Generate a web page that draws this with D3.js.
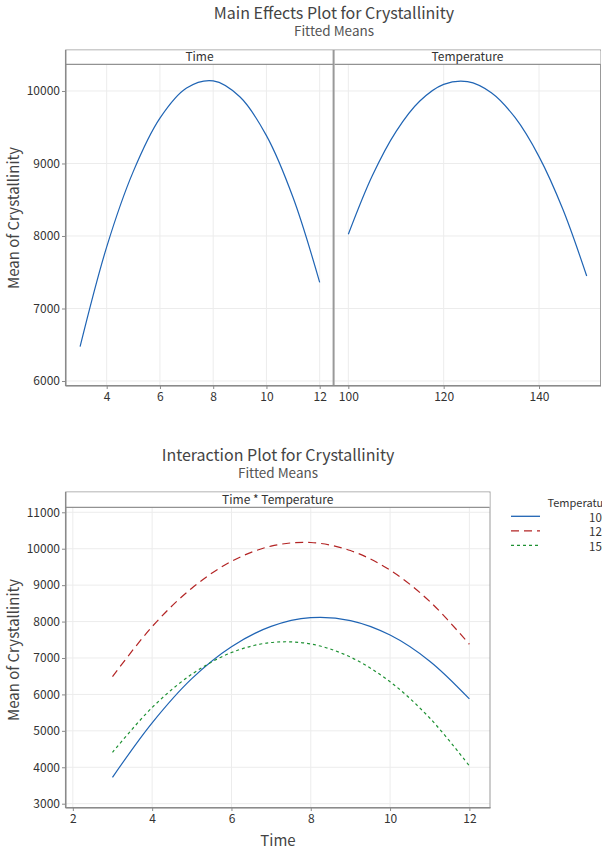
<!DOCTYPE html>
<html>
<head>
<meta charset="utf-8">
<script src="https://cdn.jsdelivr.net/npm/d3@7"></script>
<style>
  html, body { margin: 0; padding: 0; background: #fff; overflow: hidden; }
  svg { display: block; }
  text { font-family: "Noto Sans CJK KR", "Open Sans", sans-serif; }
</style>
</head>
<body>
<script>
// Fitted means: main effects
const timeLevels = [3, 4, 5, 6, 7, 8, 9, 10, 11, 12];
const timeMain   = [6473, 7850, 8891, 9625, 10041, 10139, 9920, 9384, 8530, 7361];
const tempLevels = [100, 105, 110, 115, 120, 125, 130, 135, 140, 145, 150];
const tempMain   = [8023, 8827, 9440, 9861, 10091, 10129, 9976, 9631, 9095, 8368, 7448];

// Fitted means: Time * Temperature interaction
const temp100 = [3725, 5220, 6434, 7310, 7868, 8107, 8027, 7629, 6912, 5876];
const temp125 = [6487, 7862, 8917, 9654, 10071, 10170, 9950, 9412, 8554, 7377];
const temp150 = [4410, 5641, 6554, 7149, 7425, 7384, 7025, 6347, 5352, 4038];
const legendLabels = ["100", "125", "150"];

// Tick labels
const mainYTicks  = [6000, 7000, 8000, 9000, 10000];
const mainTimeTicks = [4, 6, 8, 10, 12];
const mainTempTicks = [100, 120, 140];
const interYTicks = [3000, 4000, 5000, 6000, 7000, 8000, 9000, 10000, 11000];
const interXTicks = [2, 4, 6, 8, 10, 12];

const W = 602, H = 852;
const svg = d3.select("body").append("svg").attr("width", W).attr("height", H);

const gridColor = "#ececec";
const axisColor = "#8a8a8a";
const textColor = "#333";

function grid(g, x, y, xt, yt) {
  const [x0, x1] = x.range(), [y0, y1] = y.range();
  g.selectAll(null).data(yt).join("line")
    .attr("x1", x0).attr("x2", x1)
    .attr("y1", d => y(d)).attr("y2", d => y(d))
    .attr("stroke", gridColor).attr("stroke-width", 1);
  g.selectAll(null).data(xt).join("line")
    .attr("x1", d => x(d)).attr("x2", d => x(d))
    .attr("y1", y0).attr("y2", y1)
    .attr("stroke", gridColor).attr("stroke-width", 1);
}

function styleAxis(g) {
  g.select(".domain").remove();
  g.selectAll(".tick line").attr("stroke", axisColor);
  g.selectAll(".tick text").attr("fill", textColor).style("font-size", "12px");
}

function strip(g, x0, x1, top, bottom, label) {
  g.append("rect").attr("x", x0).attr("y", top).attr("width", x1 - x0).attr("height", bottom - top)
    .attr("fill", "#fff");
  g.append("line").attr("x1", x0).attr("x2", x1).attr("y1", bottom).attr("y2", bottom)
    .attr("stroke", "#777").attr("stroke-width", 1);
  g.append("text").attr("x", (x0 + x1) / 2).attr("y", bottom - 3.5).attr("text-anchor", "middle")
    .attr("fill", textColor).style("font-size", "12px").text(label);
}

function titles(cx, y, main, sub) {
  svg.append("text").attr("x", cx).attr("y", y).attr("text-anchor", "middle")
    .attr("fill", "#444").style("font-size", "16px").text(main);
  svg.append("text").attr("x", cx).attr("y", y + 17).attr("text-anchor", "middle")
    .attr("fill", "#555").style("font-size", "13.5px").text(sub);
}

function yTitle(cy) {
  svg.append("text").attr("transform", `translate(19,${cy}) rotate(-90)`)
    .attr("text-anchor", "middle").attr("fill", "#444").style("font-size", "15px")
    .text("Mean of Crystallinity");
}

// ---------------- Main effects plot ----------------
const topY = d3.scaleLinear().domain([5935, 10368]).range([385.7, 64.3]);
const xTime = d3.scaleLinear().domain([2.46, 12.5]).range([65.7, 333]);
const xTemp = d3.scaleLinear().domain([97.1, 153]).range([334.5, 601]);

titles(334, 19, "Main Effects Plot for Crystallinity", "Fitted Means");
yTitle(218);

const gTop = svg.append("g");
grid(gTop.append("g"), xTime, topY, mainTimeTicks, mainYTicks);
grid(gTop.append("g"), xTemp, topY, mainTempTicks, mainYTicks);

const line = (xs, ys, xScale, yScale) =>
  d3.line().x(d => xScale(d[0])).y(d => yScale(d[1])).curve(d3.curveCatmullRom)(d3.zip(xs, ys));

gTop.append("path").attr("d", line(timeLevels, timeMain, xTime, topY))
  .attr("fill", "none").attr("stroke", "#1f64b4").attr("stroke-width", 1.2);
gTop.append("path").attr("d", line(tempLevels, tempMain, xTemp, topY))
  .attr("fill", "none").attr("stroke", "#1f64b4").attr("stroke-width", 1.2);

// panel frame
gTop.append("rect").attr("x", 65.7).attr("y", 50).attr("width", 601 - 65.7 - 0.5).attr("height", 385.7 - 50)
  .attr("fill", "none").attr("stroke", "#999").attr("stroke-width", 1);
strip(gTop, 66, 333, 50.5, 64.3, "Time");
strip(gTop, 334.5, 600.5, 50.5, 64.3, "Temperature");
gTop.append("line").attr("x1", 333.6).attr("x2", 333.6).attr("y1", 50).attr("y2", 385.7)
  .attr("stroke", "#999").attr("stroke-width", 2);
gTop.append("line").attr("x1", 65.7).attr("x2", 65.7).attr("y1", 50).attr("y2", 386)
  .attr("stroke", axisColor).attr("stroke-width", 1.5);
gTop.append("line").attr("x1", 65.7).attr("x2", 601).attr("y1", 385.7).attr("y2", 385.7)
  .attr("stroke", axisColor).attr("stroke-width", 1.5);

gTop.append("g").attr("transform", "translate(65,0)")
  .call(d3.axisLeft(topY).tickValues(mainYTicks).tickSize(3).tickPadding(2).tickFormat(d3.format("d")))
  .call(styleAxis);
gTop.append("g").attr("transform", "translate(0,386)")
  .call(d3.axisBottom(xTime).tickValues(mainTimeTicks).tickSize(3).tickPadding(3))
  .call(styleAxis);
gTop.append("g").attr("transform", "translate(0,386)")
  .call(d3.axisBottom(xTemp).tickValues(mainTempTicks).tickSize(3).tickPadding(3))
  .call(styleAxis);

// ---------------- Interaction plot ----------------
const botY = d3.scaleLinear().domain([2890, 11137]).range([807.7, 507.3]);
const botX = d3.scaleLinear().domain([1.82, 12.52]).range([65.7, 490]);

titles(278, 461, "Interaction Plot for Crystallinity", "Fitted Means");
yTitle(650);

const gBot = svg.append("g");
grid(gBot.append("g"), botX, botY, interXTicks, interYTicks);

const series = [
  { label: legendLabels[0], values: temp100, color: "#1f64b4", dash: null },
  { label: legendLabels[1], values: temp125, color: "#b32424", dash: "8,5" },
  { label: legendLabels[2], values: temp150, color: "#1e9133", dash: "3,3" }
];

series.forEach(s => {
  gBot.append("path").attr("d", line(timeLevels, s.values, botX, botY))
    .attr("fill", "none").attr("stroke", s.color).attr("stroke-width", 1.2)
    .attr("stroke-dasharray", s.dash);
});

gBot.append("rect").attr("x", 65.7).attr("y", 492).attr("width", 490 - 65.7).attr("height", 807.7 - 492)
  .attr("fill", "none").attr("stroke", "#999").attr("stroke-width", 1);
strip(gBot, 66, 489.5, 492.5, 507.3, "Time * Temperature");
gBot.append("line").attr("x1", 65.7).attr("x2", 65.7).attr("y1", 492).attr("y2", 808)
  .attr("stroke", axisColor).attr("stroke-width", 1.5);
gBot.append("line").attr("x1", 65.7).attr("x2", 490.5).attr("y1", 807.7).attr("y2", 807.7)
  .attr("stroke", axisColor).attr("stroke-width", 1.5);

gBot.append("g").attr("transform", "translate(65,0)")
  .call(d3.axisLeft(botY).tickValues(interYTicks).tickSize(3).tickPadding(2).tickFormat(d3.format("d")))
  .call(styleAxis);
gBot.append("g").attr("transform", "translate(0,808)")
  .call(d3.axisBottom(botX).tickValues(interXTicks).tickSize(3).tickPadding(3))
  .call(styleAxis);

svg.append("text").attr("x", 278).attr("y", 846).attr("text-anchor", "middle")
  .attr("fill", "#444").style("font-size", "15px").text("Time");

// legend (the column runs past the right edge of the page)
const lg = svg.append("g");
lg.append("text").attr("x", 547.5).attr("y", 506.5).attr("fill", textColor)
  .style("font-size", "11px").text("Temperature");
series.forEach((s, i) => {
  const yy = 516.3 + i * 14.5;
  lg.append("line").attr("x1", 511).attr("x2", 540).attr("y1", yy).attr("y2", yy)
    .attr("stroke", s.color).attr("stroke-width", 1.3).attr("stroke-dasharray", s.dash);
  lg.append("text").attr("x", 589).attr("y", yy + 5.4).attr("fill", textColor)
    .style("font-size", "11.5px").text(s.label);
});
</script>
</body>
</html>
